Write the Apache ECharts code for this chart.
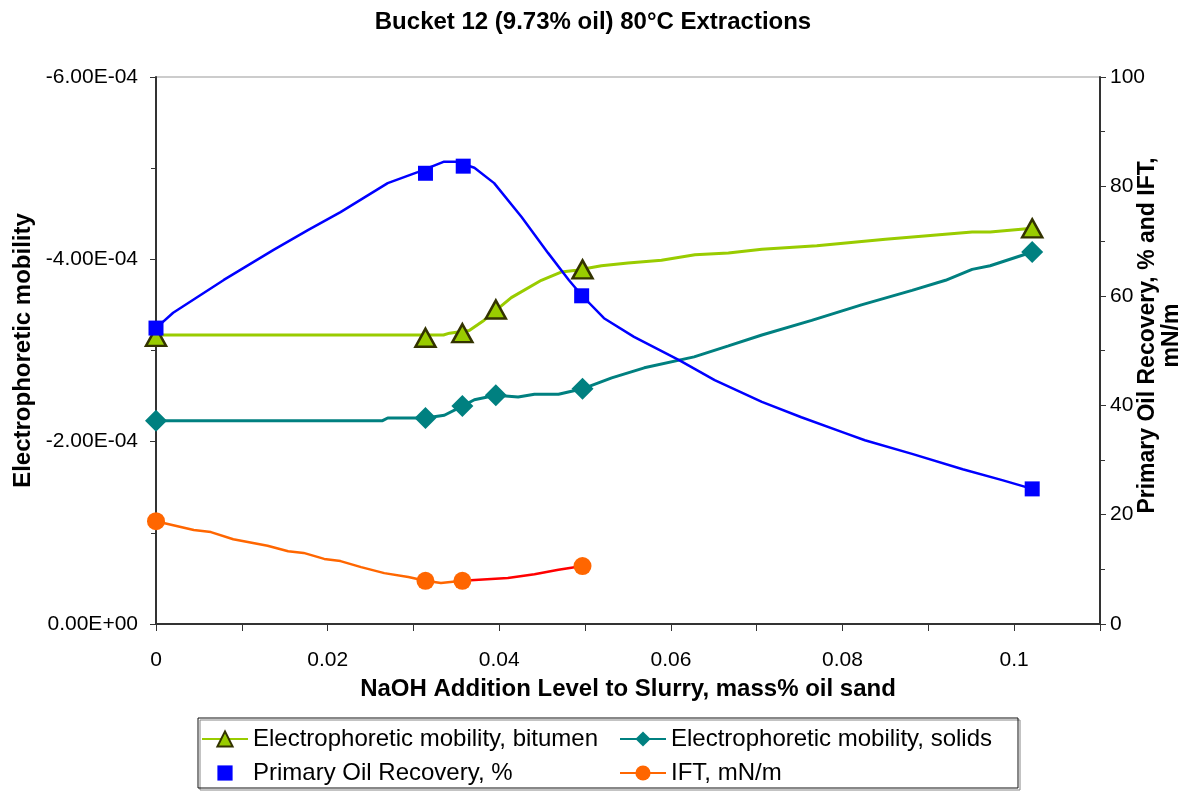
<!DOCTYPE html>
<html>
<head>
<meta charset="utf-8">
<title>Bucket 12 (9.73% oil) 80°C Extractions</title>
<script src="https://cdn.jsdelivr.net/npm/echarts@6/dist/echarts.min.js"></script>
<style>
  html, body { margin: 0; padding: 0; background: #fff; }
  #echart { width: 1186px; height: 792px; }
</style>
</head>
<body>
<div id="echart"></div>
<script>
// measured points (markers)
const bitumenX = [0, 0.0314, 0.0357, 0.0396, 0.0497, 0.1021];
const bitumenY = [-3.15e-4, -3.14e-4, -3.19e-4, -3.45e-4, -3.89e-4, -4.34e-4];
const solidsX = [0, 0.0314, 0.0357, 0.0396, 0.0497, 0.1021];
const solidsY = [-2.23e-4, -2.26e-4, -2.39e-4, -2.51e-4, -2.58e-4, -4.08e-4];
const recoveryX = [0, 0.0314, 0.0358, 0.0496, 0.1021];
const recoveryY = [54.1, 82.4, 83.7, 60.0, 24.7];
const iftX = [0, 0.0314, 0.0357, 0.0497];
const iftY = [18.8, 7.9, 7.9, 10.6];

// curves as drawn in the picture
const bitumenCurve = [
  [0, -3.17e-4], [0.0335, -3.17e-4], [0.0342, -3.19e-4], [0.0365, -3.22e-4],
  [0.0382, -3.33e-4], [0.0414, -3.58e-4], [0.0449, -3.77e-4], [0.0472, -3.86e-4],
  [0.049, -3.88e-4], [0.0519, -3.93e-4], [0.055, -3.96e-4], [0.0589, -3.99e-4],
  [0.0628, -4.05e-4], [0.0667, -4.07e-4], [0.0706, -4.11e-4], [0.077, -4.15e-4],
  [0.085, -4.22e-4], [0.0951, -4.30e-4], [0.0972, -4.30e-4], [0.1021, -4.34e-4]
];
const solidsCurve = [
  [0, -2.23e-4], [0.0264, -2.23e-4], [0.027, -2.26e-4], [0.0314, -2.26e-4],
  [0.0336, -2.29e-4], [0.0357, -2.39e-4], [0.0371, -2.46e-4], [0.0396, -2.51e-4],
  [0.0422, -2.49e-4], [0.0441, -2.52e-4], [0.0469, -2.52e-4], [0.0497, -2.58e-4],
  [0.0531, -2.70e-4], [0.0569, -2.81e-4], [0.0627, -2.93e-4], [0.0667, -3.05e-4],
  [0.0706, -3.17e-4], [0.0764, -3.33e-4], [0.0822, -3.50e-4], [0.0881, -3.66e-4],
  [0.092, -3.77e-4], [0.0951, -3.89e-4], [0.0972, -3.93e-4], [0.1021, -4.08e-4]
];
const recoveryCurve = [
  [0, 54.1], [0.002, 56.9], [0.0079, 62.9], [0.0137, 68.4], [0.0177, 72.0],
  [0.0215, 75.3], [0.027, 80.6], [0.0305, 82.6], [0.0335, 84.5], [0.035, 84.5],
  [0.0371, 83.4], [0.0394, 80.6], [0.0426, 74.4], [0.0457, 67.8], [0.0481, 62.9],
  [0.0496, 60.1], [0.0522, 55.9], [0.0557, 52.5], [0.0609, 48.3], [0.0651, 44.6],
  [0.0706, 40.6], [0.0752, 37.8], [0.0803, 34.9], [0.0826, 33.6], [0.0881, 31.1],
  [0.094, 28.3], [0.0986, 26.3], [0.1021, 24.7]
];
const iftCurve = [
  [0, 18.8], [0.0044, 17.2], [0.0064, 16.8], [0.009, 15.5], [0.013, 14.3],
  [0.0154, 13.3], [0.0172, 13.0], [0.0196, 11.9], [0.0215, 11.5], [0.0239, 10.4],
  [0.0266, 9.3], [0.0294, 8.6], [0.0314, 7.9], [0.0332, 7.5], [0.0357, 7.9]
];
const iftCurveRed = [
  [0.0357, 7.9], [0.041, 8.4], [0.0441, 9.1], [0.0469, 9.9], [0.0497, 10.6]
];

const names = [
  'Electrophoretic mobility, bitumen',
  'Electrophoretic mobility, solids',
  'Primary Oil Recovery, %',
  'IFT, mN/m'
];

const FONT = 'Liberation Sans, Arial, sans-serif';

function pairs(xs, ys) {
  return xs.map((x, i) => [x, ys[i]]);
}

// -6.00E-04 style labels
function sci(v) {
  if (Math.abs(v) < 1e-12) return '0.00E+00';
  const parts = v.toExponential(2).split('e');
  const e = parseInt(parts[1], 10);
  return parts[0] + 'E' + (e < 0 ? '-' : '+') + String(Math.abs(e)).padStart(2, '0');
}

const chart = echarts.init(document.getElementById('echart'));

const option = {
  backgroundColor: '#fff',
  animation: false,
  textStyle: { fontFamily: FONT },
  title: {
    text: 'Bucket 12 (9.73% oil) 80°C Extractions',
    left: 'center',
    top: 5,
    textStyle: { fontSize: 24, fontWeight: 'bold', color: '#000', fontFamily: FONT }
  },
  grid: {
    left: 156, right: 86, top: 77, bottom: 168,
    outerBoundsMode: 'none',
    show: true, borderColor: '#999', borderWidth: 1
  },
  legend: [
    {
      data: [names[0], { name: names[2], lineStyle: { opacity: 0 } }],
      orient: 'vertical', left: 201, top: 727,
      itemWidth: 46, itemHeight: 19, itemGap: 10, padding: 0,
      textStyle: { fontSize: 24, color: '#000', fontFamily: FONT }
    },
    {
      data: [names[1], names[3]],
      orient: 'vertical', left: 619, top: 727,
      itemWidth: 46, itemHeight: 19, itemGap: 10, padding: 0,
      textStyle: { fontSize: 24, color: '#000', fontFamily: FONT }
    }
  ],
  graphic: [{
    type: 'rect',
    shape: { x: 198, y: 718, width: 820, height: 70 },
    style: { fill: 'none', stroke: '#111', lineWidth: 1, shadowColor: '#888', shadowOffsetX: 2, shadowOffsetY: 2, shadowBlur: 0 },
    z: -1
  }],
  xAxis: {
    type: 'value', min: 0, max: 0.11, interval: 0.01,
    splitLine: { show: false },
    axisLine: { lineStyle: { color: '#333', width: 2 } },
    axisTick: { length: 7, lineStyle: { color: '#333' } },
    axisLabel: {
      fontSize: 21, color: '#000', margin: 26,
      formatter: v => {
        const k = Math.round(v * 100);
        return (k % 2 === 0 && k <= 10) ? String(+v.toFixed(2)) : '';
      }
    },
    name: 'NaOH Addition Level to Slurry, mass% oil sand',
    nameLocation: 'middle', nameGap: 53,
    nameTextStyle: { fontSize: 24, fontWeight: 'bold', color: '#000' }
  },
  yAxis: [
    {
      type: 'value', min: -6e-4, max: 0, interval: 2e-4, inverse: true, position: 'left',
      splitLine: { show: false },
      axisLine: { show: true, lineStyle: { color: '#333', width: 2 } },
      axisTick: { length: 6, lineStyle: { color: '#333' } },
      minorTick: { show: true, splitNumber: 2, length: 5, lineStyle: { color: '#333' } },
      axisLabel: { fontSize: 21, color: '#000', margin: 18, formatter: sci },
      name: 'Electrophoretic mobility',
      nameLocation: 'middle', nameGap: 121, nameRotate: 90,
      nameTextStyle: { fontSize: 24, fontWeight: 'bold', color: '#000' }
    },
    {
      type: 'value', min: 0, max: 100, interval: 20, position: 'right',
      splitLine: { show: false },
      axisLine: { show: true, lineStyle: { color: '#333', width: 2 } },
      axisTick: { length: 6, lineStyle: { color: '#333' } },
      minorTick: { show: true, splitNumber: 2, length: 5, lineStyle: { color: '#333' } },
      axisLabel: { fontSize: 21, color: '#000', margin: 10 },
      name: 'Primary Oil Recovery, % and IFT,\nmN/m',
      nameLocation: 'middle', nameGap: 36, nameRotate: 90, nameMoveOverlap: false,
      nameTextStyle: { fontSize: 23, fontWeight: 'bold', color: '#000', lineHeight: 24, align: 'center', padding: [0, 0, 0, 30] }
    }
  ],
  series: [
    {
      name: names[0], type: 'line', yAxisIndex: 0, data: bitumenCurve,
      symbol: 'triangle', showSymbol: false, z: 2,
      lineStyle: { color: '#99CC00', width: 3 },
      itemStyle: { color: '#99CC00', borderColor: '#333300', borderWidth: 2.5 }
    },
    {
      name: names[1], type: 'line', yAxisIndex: 0, data: solidsCurve,
      symbol: 'diamond', showSymbol: false, z: 2,
      lineStyle: { color: '#008080', width: 3 },
      itemStyle: { color: '#008080' }
    },
    {
      name: 'recovery curve', type: 'line', yAxisIndex: 1, data: recoveryCurve,
      showSymbol: false, z: 3,
      lineStyle: { color: '#0000FF', width: 2.5 }
    },
    {
      name: names[3], type: 'line', yAxisIndex: 1, data: iftCurve,
      symbol: 'circle', showSymbol: false, z: 2,
      lineStyle: { color: '#FF6600', width: 2.5 },
      itemStyle: { color: '#FF6600' }
    },
    {
      name: 'IFT curve red', type: 'line', yAxisIndex: 1, data: iftCurveRed,
      showSymbol: false, z: 2,
      lineStyle: { color: '#FF0000', width: 2.5 }
    },
    {
      name: 'bitumen points', type: 'scatter', yAxisIndex: 0, data: pairs(bitumenX, bitumenY),
      symbol: 'triangle', symbolSize: [20, 18], z: 5,
      itemStyle: { color: '#99CC00', borderColor: '#333300', borderWidth: 2.5, opacity: 1 }
    },
    {
      name: 'solids points', type: 'scatter', yAxisIndex: 0, data: pairs(solidsX, solidsY),
      symbol: 'diamond', symbolSize: 22, z: 5,
      itemStyle: { color: '#008080', opacity: 1 }
    },
    {
      name: names[2], type: 'line', yAxisIndex: 1, data: pairs(recoveryX, recoveryY),
      symbol: 'rect', symbolSize: 15, showSymbol: true, z: 5,
      lineStyle: { width: 0, opacity: 0 },
      itemStyle: { color: '#0000FF' }
    },
    {
      name: 'IFT points', type: 'scatter', yAxisIndex: 1, data: pairs(iftX, iftY),
      symbol: 'circle', symbolSize: 18, z: 5,
      itemStyle: { color: '#FF6600', opacity: 1 }
    }
  ]
};

chart.setOption(option);
</script>
</body>
</html>
